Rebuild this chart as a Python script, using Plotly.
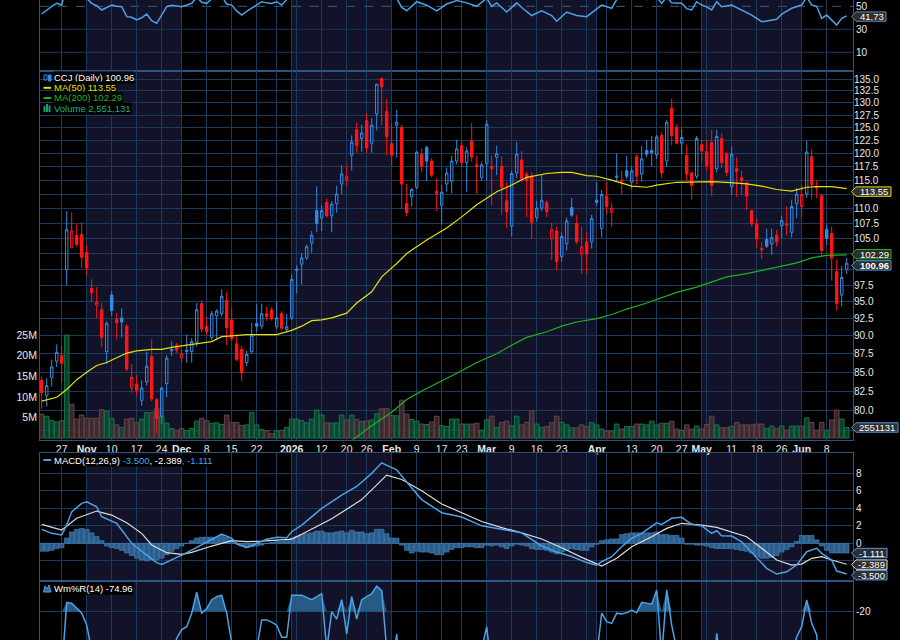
import math
import plotly.graph_objects as go
import pandas as pd

# ---------------------------------------------------------------- data
HOLIDAYS = ["2025-11-27", "2025-12-25", "2026-01-01", "2026-01-19",
            "2026-02-16", "2026-04-03", "2026-05-25"]
dates = [d.strftime("%Y-%m-%d") for d in pd.bdate_range("2025-10-21", "2026-06-12")
         if d.strftime("%Y-%m-%d") not in HOLIDAYS]
sessions = list(range(len(dates)))
pos = {d: i for i, d in enumerate(dates)}

open_ = [83.9, 81.9, 84.3, 86.5, 87.3, 99.9, 103.5, 105.5, 105.6, 102.7,
         97.0, 94.5, 93.8, 87.8, 96.0, 92.4, 92.6, 91.4, 82.9, 83.4,
         81.3, 83.7, 87.1, 81.4, 79.3, 83.5, 87.9, 88.7, 87.0, 87.8,
         87.8, 89.1, 94.7, 91.4, 89.8, 92.9, 93.2, 95.2, 92.3, 88.9,
         88.1, 86.3, 87.8, 91.8, 91.4, 93.2, 93.8, 91.3, 93.2, 90.9,
         92.6, 99.8, 100.8, 101.8, 104.2, 109.7, 108.4, 111.1, 108.8, 110.9,
         114.4, 115.2, 119.7, 124.6, 122.9, 126.4, 122.0, 127.8, 135.1, 128.3,
         121.9, 125.5, 125.1, 110.9, 112.1, 113.8, 119.9, 121.2, 118.6, 113.1,
         110.6, 114.4, 114.9, 118.6, 121.5, 118.3, 122.4, 117.9, 115.6, 118.1,
         117.6, 119.3, 117.6, 111.4, 107.0, 116.4, 118.8, 116.2, 115.8, 108.5,
         110.1, 111.1, 104.9, 106.2, 102.0, 104.1, 110.2, 107.5, 102.4, 104.4,
         104.4, 111.5, 106.6, 112.2, 109.4, 115.6, 115.1, 116.8, 114.7, 119.4,
         116.2, 120.6, 120.6, 119.8, 123.5, 118.6, 128.9, 125.1, 122.0, 119.7,
         116.4, 115.8, 121.7, 120.4, 122.1, 117.2, 122.9, 120.0, 113.9, 117.2,
         115.5, 114.6, 109.7, 107.4, 103.3, 104.8, 104.1, 105.5, 107.1, 107.4,
         106.0, 110.9, 110.4, 112.6, 119.4, 114.0, 112.3, 106.5, 105.8, 99.6,
         96.0, 100.0]
high = [84.4, 84.2, 86.7, 88.8, 88.6, 109.6, 109.4, 107.3, 107.7, 103.9,
        98.4, 97.2, 94.8, 92.1, 96.6, 93.3, 94.0, 91.7, 86.1, 84.6,
        83.9, 87.8, 89.5, 81.6, 83.1, 87.3, 89.2, 89.0, 88.1, 90.2,
        89.7, 94.8, 95.2, 92.8, 93.6, 93.9, 96.9, 96.5, 94.0, 90.0,
        88.6, 87.9, 91.9, 94.6, 94.7, 94.2, 94.2, 95.0, 93.6, 93.2,
        99.2, 100.6, 102.6, 104.0, 106.2, 114.0, 110.6, 111.8, 111.3, 114.1,
        117.9, 117.8, 123.5, 126.0, 125.6, 127.9, 126.9, 134.0, 135.3, 130.8,
        126.0, 128.6, 125.6, 114.4, 113.6, 120.5, 121.0, 121.5, 119.2, 115.4,
        114.2, 117.4, 119.6, 122.7, 122.4, 121.2, 126.0, 119.6, 118.5, 126.5,
        119.7, 121.5, 119.5, 114.7, 116.8, 122.3, 120.5, 116.6, 116.5, 111.4,
        116.0, 111.5, 107.6, 107.0, 106.0, 108.5, 111.9, 108.9, 106.9, 106.0,
        109.0, 114.7, 113.3, 114.7, 111.1, 120.0, 116.8, 119.6, 117.6, 119.9,
        121.5, 122.6, 123.4, 123.6, 124.2, 126.5, 130.9, 125.7, 124.7, 121.7,
        116.6, 123.4, 122.6, 122.6, 124.6, 124.6, 123.9, 120.3, 121.2, 119.3,
        116.8, 114.8, 109.8, 108.3, 104.4, 106.6, 106.6, 106.4, 108.8, 110.4,
        111.6, 113.7, 114.3, 122.5, 120.9, 115.0, 112.6, 107.3, 107.0, 101.5,
        100.5, 101.8]
low = [80.2, 80.5, 83.1, 85.7, 83.6, 97.5, 103.3, 103.6, 100.2, 99.0,
       95.0, 92.6, 88.4, 86.1, 92.9, 89.5, 89.8, 85.1, 82.3, 81.8,
       80.6, 83.2, 81.2, 77.2, 78.3, 81.7, 87.2, 87.6, 86.3, 86.3,
       86.3, 88.5, 90.5, 90.1, 89.4, 89.4, 92.8, 88.7, 89.3, 86.5,
       83.8, 85.8, 87.5, 90.6, 91.0, 92.2, 92.2, 91.0, 90.8, 90.6,
       92.3, 96.3, 97.6, 101.5, 102.6, 106.0, 106.2, 108.5, 106.0, 109.3,
       112.6, 114.0, 116.8, 120.2, 120.4, 120.1, 120.2, 124.5, 125.5, 119.7,
       117.7, 119.3, 110.0, 108.7, 110.4, 113.5, 116.5, 114.9, 115.6, 109.6,
       107.3, 113.0, 112.7, 118.0, 117.5, 113.0, 118.5, 112.7, 115.0, 115.0,
       110.6, 116.0, 109.0, 106.7, 105.3, 115.5, 114.8, 108.6, 104.9, 107.8,
       109.6, 108.6, 101.5, 99.8, 101.2, 103.0, 108.6, 104.0, 99.3, 99.3,
       103.3, 110.5, 105.1, 109.0, 106.9, 114.8, 112.5, 115.3, 113.5, 114.3,
       114.8, 119.3, 117.6, 119.0, 115.4, 117.5, 121.6, 121.8, 119.9, 115.0,
       111.6, 115.3, 118.3, 116.8, 112.3, 116.5, 117.3, 115.8, 112.4, 112.1,
       112.4, 109.8, 107.0, 103.5, 101.6, 103.4, 102.3, 103.6, 105.0, 105.5,
       105.1, 108.4, 108.6, 111.9, 111.6, 111.9, 101.9, 103.9, 98.2, 93.7,
       94.3, 99.2]
close = [82.3, 83.2, 85.7, 87.7, 86.2, 106.4, 106.2, 104.0, 101.9, 100.2,
         96.4, 94.9, 89.8, 91.8, 93.7, 91.9, 92.0, 85.4, 84.3, 82.6,
         82.9, 85.8, 81.5, 79.0, 82.9, 86.9, 88.1, 88.0, 87.5, 88.0,
         89.2, 93.8, 91.0, 90.6, 93.2, 93.6, 95.8, 91.2, 89.6, 86.7,
         84.9, 87.4, 90.1, 91.4, 93.2, 92.8, 92.5, 92.6, 91.1, 91.3,
         98.4, 100.0, 101.8, 103.6, 105.5, 107.5, 109.7, 108.8, 110.8, 112.6,
         116.2, 115.7, 122.2, 121.6, 124.0, 121.1, 125.5, 133.9, 133.4, 123.3,
         119.7, 126.1, 114.4, 109.3, 113.4, 120.3, 117.6, 118.6, 116.0, 112.7,
         112.9, 116.4, 118.6, 120.9, 118.3, 120.5, 119.4, 117.6, 117.9, 125.7,
         117.2, 120.0, 113.8, 109.5, 116.3, 119.9, 115.3, 115.0, 107.7, 110.1,
         111.5, 109.5, 106.4, 101.2, 105.3, 107.9, 108.9, 104.4, 103.6, 102.4,
         108.3, 111.1, 112.5, 110.4, 110.1, 115.8, 114.9, 115.8, 116.8, 115.8,
         119.0, 119.9, 120.2, 123.2, 116.4, 126.1, 123.5, 122.0, 123.1, 116.2,
         114.1, 122.9, 120.5, 117.8, 114.1, 123.3, 118.3, 116.5, 119.9, 116.7,
         115.0, 112.2, 107.4, 104.9, 103.1, 103.7, 105.1, 104.4, 108.0, 107.2,
         110.4, 112.6, 112.5, 120.3, 114.3, 113.7, 103.0, 105.0, 101.8, 94.7,
         98.7, 100.96]
# B = close above previous close (blue), R = below (red)
candle_color = ("RBBBRBRRRR" "RRRBBRBRRR" "BBRRBBBRRB" "BBRRBBBRRR"
                "RBBBBRRBRB" "BBBBBBBRBB" "BRBRBRBBRR" "RBRRBBRBRR"
                "BBBBRBRRBB" "RBRRBBRRRB" "BRRRBBBRRR" "BBBRRBRBBR"
                "BBBBRBRRBR" "RBRRRBRRBR" "RRRRRBBRBR" "BBRBRRRBRR" "BB")
volume_m = [5.8, 5.3, 4.3, 3.9, 4.2, 25.0, 8.2, 4.6, 5.6, 4.8,
            4.8, 4.8, 6.9, 6.5, 4.8, 3.2, 2.6, 4.6, 4.8, 3.7,
            4.6, 6.2, 6.2, 7.2, 5.2, 3.6, 2.3, 1.9, 2.3, 1.8,
            2.3, 4.1, 4.8, 4.2, 3.6, 3.7, 3.3, 5.6, 3.8, 3.8,
            3.1, 3.2, 6.2, 3.2, 2.1, 1.8, 1.1, 1.7, 1.9, 2.6,
            4.6, 4.6, 4.2, 3.7, 4.6, 6.8, 5.6, 3.7, 3.6, 3.7,
            5.6, 4.4, 5.6, 4.5, 4.0, 4.2, 4.4, 5.9, 7.1, 7.2,
            5.5, 5.4, 9.2, 5.8, 4.5, 4.1, 3.4, 3.3, 3.9, 5.3,
            3.0, 2.8, 4.6, 4.6, 3.4, 3.4, 3.4, 3.6, 1.9, 4.4,
            5.3, 2.6, 3.8, 4.1, 3.0, 5.3, 3.2, 3.8, 6.6, 3.4,
            2.6, 2.8, 3.8, 5.3, 3.8, 3.2, 2.5, 2.5, 3.2, 2.8,
            3.8, 3.2, 2.2, 1.7, 1.7, 3.4, 2.2, 2.8, 2.8, 3.4,
            3.4, 3.2, 4.1, 3.2, 3.6, 3.6, 4.1, 2.2, 1.9, 3.2,
            2.2, 2.9, 2.2, 3.3, 5.3, 3.2, 2.5, 2.5, 2.8, 3.8,
            3.2, 3.2, 3.2, 3.4, 3.4, 2.3, 2.9, 2.3, 2.9, 1.9,
            2.9, 2.9, 2.9, 4.9, 3.8, 1.9, 3.8, 1.9, 4.4, 6.8,
            4.6, 2.551131]

ma50_x = [0, 3, 5, 7, 9, 11, 13, 15, 17, 19, 22, 24, 26, 29, 31, 34, 36, 39, 41, 47,
          50, 52, 54, 56, 58, 61, 63, 66, 68, 71, 73, 77, 81, 84, 87, 91, 94, 97, 101, 104,
          106, 109, 111, 114, 116, 118, 121, 123, 127, 134, 137, 141, 144, 147, 150, 153, 155, 158, 161]
ma50_v = [81.2, 81.7, 82.7, 84.0, 85.0, 85.9, 86.3, 87.0, 87.6, 87.9, 88.1, 88.1, 88.4, 88.7, 88.9, 89.2, 89.9, 90.1, 90.2, 90.2,
          90.8, 91.4, 92.2, 92.3, 92.6, 93.3, 94.8, 96.5, 98.8, 100.9, 102.5, 104.7, 106.7, 108.6, 110.7, 113.0, 114.2, 115.6, 116.3, 116.5,
          116.5, 115.9, 115.8, 115.1, 114.5, 114.0, 113.8, 114.2, 114.7, 114.8, 114.7, 114.4, 114.0, 113.4, 113.1, 113.8, 113.9, 113.9, 113.55]
ma200_x = [62, 66, 70, 73, 76, 80, 84, 87, 91, 94, 97, 101, 104, 107, 111, 114, 117, 121, 124, 127,
           131, 134, 137, 141, 144, 147, 151, 154, 157, 161]
ma200_v = [76.3, 78.1, 79.8, 81.4, 82.5, 83.8, 85.2, 86.3, 87.5, 88.7, 89.8, 90.6, 91.4, 92.0, 92.5, 93.1, 93.9, 94.8, 95.6, 96.4,
           97.2, 98.0, 98.8, 99.3, 99.8, 100.4, 101.0, 101.8, 102.2, 102.29]

rsi_x = [0, 1, 2, 3, 4, 5, 6, 7, 8, 9, 10, 11, 12, 13, 14, 15, 16, 17, 18, 19,
         20, 21, 22, 23, 24, 25, 26, 27, 28, 29, 30, 31, 32, 33, 34, 35, 36, 37, 38, 39,
         40, 41, 42, 43, 44, 45, 46, 47, 48, 49, 50, 53, 56, 59, 62, 65, 67, 69, 70, 71,
         72, 73, 75, 77, 79, 81, 83, 85, 87, 89, 90, 91, 93, 95, 96, 98, 100, 102, 103, 105,
         107, 109, 111, 112, 114, 115, 117, 119, 121, 123, 124, 125, 126, 128, 129, 130, 131, 132, 133, 134,
         135, 136, 138, 140, 142, 144, 146, 147, 148, 150, 152, 153, 154, 155, 156, 157, 158, 159, 160, 161]
rsi_v = [43.3, 46.8, 50.0, 52.6, 51.1, 68.0, 67.0, 64.0, 60.0, 57.0, 52.6, 50.5, 46.8, 49.0, 51.1, 50.0, 49.7, 41.0, 40.5, 38.1,
         40.0, 43.3, 37.5, 35.2, 42.4, 49.7, 51.0, 50.2, 49.7, 51.1, 52.6, 58.0, 53.5, 52.6, 56.5, 57.0, 59.0, 52.0, 51.1, 46.0,
         42.4, 45.5, 48.3, 50.5, 54.0, 53.0, 52.5, 54.0, 51.1, 56.0, 62.0, 68.0, 73.0, 73.0, 77.0, 70.0, 79.0, 62.0, 57.0, 57.0,
         49.0, 46.0, 54.0, 51.0, 46.0, 52.0, 55.0, 53.0, 50.0, 57.0, 50.0, 53.0, 45.0, 53.0, 49.0, 42.0, 46.0, 42.0, 37.0, 45.0,
         42.0, 41.0, 48.0, 51.1, 48.3, 56.0, 57.0, 57.0, 56.0, 58.0, 52.6, 58.0, 53.0, 52.6, 48.0, 46.8, 54.0, 51.1, 49.5, 46.8,
         54.0, 49.7, 51.1, 46.8, 42.4, 36.6, 38.1, 38.7, 43.3, 48.3, 51.1, 58.0, 51.1, 50.0, 39.5, 42.4, 38.0, 33.7, 39.5, 41.73]

macd_x = [0, 2, 4, 5, 6, 8, 9, 11, 12, 15, 16, 18, 21, 23, 24, 26, 28, 30, 33, 36,
          38, 39, 41, 43, 45, 47, 49, 50, 52, 56, 60, 63, 66, 68, 71, 73, 76, 80, 84, 88,
          92, 96, 100, 103, 106, 109, 111, 112, 114, 116, 118, 120, 123, 124, 126, 128, 130, 132, 134, 135,
          136, 138, 140, 143, 145, 147, 149, 151, 153, 155, 156, 158, 159, 161]
macd_v = [1.6, 1.14, 0.95, 2.09, 3.6, 4.57, 4.75, 4.18, 3.04, 2.29, 1.52, 0.0, -1.34, -2.21, -2.4, -1.91, -1.34, -0.77, 0.19, 1.06,
          0.57, -0.08, -0.46, 0.0, 0.46, 0.69, 0.64, 1.33, 2.09, 4.0, 5.5, 6.5, 8.0, 9.2, 8.4, 7.0, 5.0, 3.5, 3.0, 2.0,
          1.6, 1.2, -0.3, -1.0, -1.5, -2.2, -2.5, -2.1, -1.53, -0.39, 0.57, 1.14, 2.35, 2.17, 2.86, 2.97, 2.17, 1.98, 1.14, 1.44,
          0.87, 0.83, 0.18, -1.71, -2.86, -3.51, -3.25, -2.48, -0.96, -0.57, -1.14, -1.91, -3.17, -3.5]
signal_x = [0, 4, 7, 11, 14, 17, 20, 22, 25, 28, 30, 34, 38, 41, 44, 48, 50, 52, 58, 64,
            69, 72, 76, 80, 84, 88, 92, 96, 100, 104, 108, 112, 115, 118, 122, 125, 128, 132, 135, 138,
            141, 144, 147, 150, 152, 154, 156, 158, 161]
signal_v = [2.17, 1.52, 2.86, 3.69, 3.23, 2.35, 1.14, -0.19, -1.07, -1.26, -1.03, -0.31, 0.3, 0.19, 0.26, 0.38, 0.49, 1.03, 2.8, 5.0,
            7.8, 7.3, 6.0, 4.5, 3.5, 2.5, 1.8, 1.2, 0.5, -0.5, -1.6, -2.6, -1.71, -0.39, 0.76, 1.71, 2.29, 2.09, 1.83, 1.33,
            0.76, -0.57, -1.91, -2.48, -2.37, -1.71, -1.53, -1.91, -2.389]
hist_v = [-0.9, -0.9, -0.8, -0.6, -0.5, 0.6, 1.3, 1.6, 1.7, 1.6,
          1.2, 0.8, 0.3, -0.3, -0.5, -0.6, -0.8, -1.1, -1.4, -1.7,
          -1.9, -2.0, -1.9, -1.9, -1.7, -1.3, -0.9, -0.6, -0.3, 0.0,
          0.3, 0.6, 0.7, 0.7, 0.7, 0.7, 0.9, 0.7, 0.4, 0.0,
          -0.3, -0.5, -0.4, -0.3, -0.2, 0.0, 0.1, 0.2, 0.2, 0.3,
          0.6, 0.8, 1.0, 1.1, 1.2, 1.4, 1.4, 1.2, 1.2, 1.3,
          1.4, 1.2, 1.5, 1.3, 1.3, 1.1, 1.2, 1.6, 1.6, 1.1,
          0.6, 0.6, -0.2, -0.8, -1.1, -0.9, -1.0, -1.0, -1.1, -1.3,
          -1.3, -1.0, -0.7, -0.5, -0.5, -0.4, -0.4, -0.5, -0.5, -0.2,
          -0.3, -0.2, -0.4, -0.6, -0.3, -0.1, -0.2, -0.3, -0.6, -0.7,
          -0.7, -0.8, -1.0, -1.2, -1.0, -0.8, -0.6, -0.7, -0.8, -0.8,
          -0.4, -0.1, 0.3, 0.4, 0.5, 0.5, 1.0, 1.1, 1.2, 1.2,
          1.2, 1.2, 1.2, 1.3, 1.0, 1.0, 0.9, 0.9, 0.6, -0.1,
          -0.1, -0.2, -0.2, -0.3, -0.5, -0.6, -0.6, -0.6, -0.6, -0.7,
          -0.8, -0.9, -1.1, -1.5, -1.7, -1.7, -1.6, -1.4, -1.0, -0.7,
          -0.4, 0.2, 0.9, 0.9, 0.9, 0.4, -0.3, -0.8, -1.1, -1.1,
          -1.1, -1.111]

wr_x = [0, 2, 3, 4, 5, 6, 8, 9, 10, 12, 16, 20, 24, 26, 27, 28, 29, 30, 31, 32,
        33, 34, 35, 36, 37, 38, 40, 42, 43, 44, 45, 46, 47, 48, 49, 50, 52, 54, 56, 57,
        58, 59, 60, 61, 62, 63, 64, 66, 67, 68, 69, 70, 71, 72, 73, 75, 77, 79, 81, 83,
        85, 87, 89, 90, 91, 92, 93, 94, 95, 96, 98, 100, 103, 105, 107, 109, 110, 111, 112, 113,
        114, 115, 116, 117, 118, 119, 120, 122, 123, 124, 125, 126, 127, 129, 131, 132, 134, 135, 136, 138,
        140, 142, 145, 148, 150, 151, 152, 153, 154, 155, 156, 157, 158, 159, 160, 161]
wr_v = [-85, -60, -50, -60, -14, -14.4, -21, -29, -50, -80, -75, -90, -85, -50, -37.7, -32, -30, -21, -7, -21,
        -18, -12, -10, -9, -21, -50, -80, -70, -45, -25.5, -25.5, -27, -29, -37, -37, -9, -9, -12, -8, -45,
        -20, -25, -12, -35, -10, -25, -12, -8, -3, -6, -45, -60, -35, -85, -95, -55, -60, -85, -65, -45,
        -45, -60, -30, -60, -50, -75, -90, -55, -40, -60, -90, -75, -95, -70, -85, -92, -65, -50, -21, -26.7,
        -27.8, -21, -21.5, -20.7, -18.9, -20.7, -13.8, -15, -5.5, -50, -5.5, -29, -45, -75, -42, -55, -80, -34.4, -60, -55,
        -70, -95, -85, -65, -50, -36.7, -30, -12.2, -27.8, -35.6, -80, -65, -85, -95, -80, -74.96]

grid_dates = ["2025-10-27", "2025-11-03", "2025-11-10", "2025-11-17", "2025-11-24", "2025-12-01",
              "2025-12-08", "2025-12-15", "2025-12-22", "2025-12-29", "2026-01-02", "2026-01-05",
              "2026-01-12", "2026-01-20", "2026-01-26", "2026-02-02", "2026-02-09", "2026-02-17",
              "2026-02-23", "2026-03-02", "2026-03-09", "2026-03-16", "2026-03-23", "2026-03-30",
              "2026-04-01", "2026-04-06", "2026-04-13", "2026-04-20", "2026-04-27", "2026-05-01",
              "2026-05-04", "2026-05-11", "2026-05-18", "2026-05-26", "2026-06-01", "2026-06-08"]
grid_labels = ["27", "<b>Nov</b>", "10", "17", "24", "<b>Dec</b>", "8", "15", "22", "", "<b>2026</b>", "",
               "12", "20", "26", "<b>Feb</b>", "9", "17", "23", "<b>Mar</b>", "9", "16", "23", "",
               "<b>Apr</b>", "", "13", "20", "27", "<b>May</b>", "", "11", "18", "26", "<b>Jun</b>", "8"]
month_spans = [("2025-11-03", "2025-12-01"), ("2026-01-02", "2026-02-02"),
               ("2026-03-02", "2026-04-01"), ("2026-05-01", "2026-06-01")]
price_ticks = [77.5, 80.0, 82.5, 85.0, 87.5, 90.0, 92.5, 95.0, 97.5, 100.0, 102.5, 105.0, 107.5,
               110.0, 112.5, 115.0, 117.5, 120.0, 122.5, 125.0, 127.5, 130.0, 132.5, 135.0]
# labels hidden behind the value boxes on the right edge
price_hidden = [77.5, 100.0, 102.5, 112.5]
volume_ticks = [5, 10, 15, 20, 25]
macd_ticks = [-2, 0, 2, 4, 6, 8]
rsi_ticks = [10, 30, 50]

# ---------------------------------------------------------------- style
W, H, ML, MR = 900, 640, 40, 47
PW = W - ML - MR
FONT = "Liberation Sans, Arial, sans-serif"
BLUE = "#3389e4"
RED = "#ff1616"
IND = "#4aa3e6"
SIGNAL = "#dcdcdc"
MA50C = "#e2e200"
MA200C = "#1fb21f"
GRID = "#1c3a5c"
BORDER = "#2a5582"
SHADE = "#121229"
TXT = "#e8e8e8"


def ydom(top, bot):
    return [1 - bot / H, 1 - top / H]


def px(xp):
    return (xp - ML) / PW


def py(yp):
    return 1 - yp / H


grid_idx = [pos[d] for d in grid_dates]
XR = [-0.34, 162.26]

fig = go.Figure()

# volume (base axis of main panel)
vol_fill = ["rgba(12,85,55,0.75)" if c == "B" else "rgba(72,48,50,0.8)" for c in candle_color]
vol_line = ["#17734c" if c == "B" else "#62444a" for c in candle_color]
fig.add_trace(go.Bar(x=sessions, y=volume_m, xaxis="x2", yaxis="y2",
                     marker=dict(color=vol_fill, line=dict(color=vol_line, width=1)),
                     hoverinfo="skip"))

# candles: blue set and red set; hollow = close>open, filled = close<open
for code, col in (("B", BLUE), ("R", RED)):
    sel = [c == code for c in candle_color]
    fig.add_trace(go.Candlestick(
        x=sessions,
        open=[v if s else None for v, s in zip(open_, sel)],
        high=[v if s else None for v, s in zip(high, sel)],
        low=[v if s else None for v, s in zip(low, sel)],
        close=[v if s else None for v, s in zip(close, sel)],
        xaxis="x2", yaxis="y5", whiskerwidth=0,
        increasing=dict(line=dict(color=col, width=1), fillcolor="rgba(0,0,0,0)"),
        decreasing=dict(line=dict(color=col, width=1), fillcolor=col),
        hoverinfo="skip"))

fig.add_trace(go.Scatter(x=ma50_x, y=ma50_v, xaxis="x2", yaxis="y5", mode="lines",
                         line=dict(color=MA50C, width=1.2), hoverinfo="skip"))
fig.add_trace(go.Scatter(x=ma200_x, y=ma200_v, xaxis="x2", yaxis="y5", mode="lines",
                         line=dict(color=MA200C, width=1.2), hoverinfo="skip"))

# RSI
fig.add_trace(go.Scatter(x=rsi_x, y=rsi_v, xaxis="x", yaxis="y", mode="lines",
                         line=dict(color=IND, width=1.5), hoverinfo="skip"))

# MACD
fig.add_trace(go.Bar(x=sessions, y=hist_v, xaxis="x3", yaxis="y3",
                     marker=dict(color="#2c5d8a", line=dict(color="#4a8cc8", width=0.6)),
                     hoverinfo="skip"))
fig.add_trace(go.Scatter(x=signal_x, y=signal_v, xaxis="x3", yaxis="y3", mode="lines",
                         line=dict(color=SIGNAL, width=1.2), hoverinfo="skip"))
fig.add_trace(go.Scatter(x=macd_x, y=macd_v, xaxis="x3", yaxis="y3", mode="lines",
                         line=dict(color=IND, width=1.5), hoverinfo="skip"))

# Williams %R with shading above -20
fig.add_trace(go.Scatter(x=wr_x, y=[-20] * len(wr_x), xaxis="x4", yaxis="y4", mode="lines",
                         line=dict(width=0, color="rgba(0,0,0,0)"), hoverinfo="skip"))
fig.add_trace(go.Scatter(x=wr_x, y=[max(v, -20) for v in wr_v], xaxis="x4", yaxis="y4",
                         mode="lines", fill="tonexty", fillcolor="#285a86",
                         line=dict(width=0, color="rgba(0,0,0,0)"), hoverinfo="skip"))
fig.add_trace(go.Scatter(x=wr_x, y=wr_v, xaxis="x4", yaxis="y4", mode="lines",
                         line=dict(color=IND, width=1.5), hoverinfo="skip"))

# ---------------------------------------------------------------- axes
xcommon = dict(range=XR, tickvals=grid_idx, showgrid=True, gridcolor=GRID, gridwidth=1,
               zeroline=False, showline=True, mirror=True, linecolor=BORDER, ticks="",
               showticklabels=False, fixedrange=True)
ycommon = dict(side="right", showline=True, mirror=True, linecolor=BORDER, ticks="",
               zeroline=False, gridcolor=GRID, gridwidth=1,
               tickfont=dict(family=FONT, size=10, color=TXT), fixedrange=True)

lay = dict(
    width=W, height=H, margin=dict(l=ML, r=MR, t=0, b=0),
    paper_bgcolor="black", plot_bgcolor="black", showlegend=False,
    hovermode=False, bargap=0.08, boxgap=0.3,
    xaxis=dict(xcommon, anchor="y"),
    xaxis2=dict(xcommon, anchor="y2", showticklabels=True, ticktext=grid_labels,
                tickfont=dict(family=FONT, size=10.5, color=TXT),
                rangeslider=dict(visible=False)),
    xaxis3=dict(xcommon, anchor="y3"),
    xaxis4=dict(xcommon, anchor="y4"),
    yaxis=dict(ycommon, anchor="x", domain=ydom(0, 71), range=[-6.3, 55.5],
               tickvals=rsi_ticks, ticktext=[str(t) for t in rsi_ticks], showgrid=False),
    yaxis2=dict(anchor="x2", domain=ydom(71, 439.5), range=[-0.35, 89.1], side="left",
                tickvals=volume_ticks, ticktext=[f"{t}M" for t in volume_ticks],
                showgrid=False, zeroline=False, showline=True, mirror=True, linecolor=BORDER,
                ticks="", tickfont=dict(family=FONT, size=10.5, color=TXT), fixedrange=True),
    yaxis5=dict(ycommon, anchor="x2", overlaying="y2", type="log",
                range=[math.log10(76.43), math.log10(136.72)],
                tickvals=price_ticks,
                ticktext=["" if t in price_hidden else f"{t:.1f}" for t in price_ticks],
                showgrid=True, showline=False),
    yaxis3=dict(ycommon, anchor="x3", domain=ydom(453.3, 580), range=[-4.19, 10.29],
                tickvals=macd_ticks, ticktext=["" if t < 0 else str(t) for t in macd_ticks],
                showgrid=True),
    yaxis4=dict(ycommon, anchor="x4", domain=ydom(581.7, 640), range=[-38.9, 0],
                tickvals=[-20], ticktext=["-20"], showgrid=True),
)
fig.update_layout(**lay)

shapes = []
# month shading in every panel
for xr, yr in (("x", "y"), ("x2", "y2"), ("x3", "y3"), ("x4", "y4")):
    for a, b in month_spans:
        shapes.append(dict(type="rect", xref=xr, yref=yr + " domain", x0=pos[a], x1=pos[b],
                           y0=0, y1=1, fillcolor=SHADE, line=dict(width=0), layer="below"))
# RSI reference lines
for lvl, dash in ((10, "solid"), (30, "solid"), (50, "dash")):
    shapes.append(dict(type="line", xref="x domain", yref="y", x0=0, x1=1, y0=lvl, y1=lvl,
                       line=dict(color=GRID if dash == "solid" else "#3b5f86", width=1, dash=dash),
                       layer="below"))

annotations = []
HB = 4.7  # half box height in px


def value_box(text, cy, w, border, bold=False):
    x0, x1 = 856, 856 + w
    shapes.append(dict(type="path", xref="paper", yref="paper",
                       path=f"M {px(851.5)},{py(cy)} L {px(x0)},{py(cy - HB)} L {px(x1)},{py(cy - HB)} "
                            f"L {px(x1)},{py(cy + HB)} L {px(x0)},{py(cy + HB)} Z",
                       fillcolor="#2e2e2e", line=dict(color=border, width=1), layer="above"))
    annotations.append(dict(xref="paper", yref="paper", x=px((x0 + x1) / 2 + 0.5), y=py(cy),
                            xanchor="center", yanchor="middle", showarrow=False,
                            text=f"<b>{text}</b>" if bold else text,
                            font=dict(family=FONT, size=9.5, color="white")))


value_box(f"{rsi_v[-1]:.2f}", 16.6, 30, "#5a86b0")
value_box(f"{ma50_v[-1]:.2f}", 191.6, 35, MA50C)
value_box(f"{ma200_v[-1]:.2f}", 254.2, 35, MA200C)
value_box(f"{close[-1]:.2f}", 265.4, 35, "#4a9be8", bold=True)
value_box(f"{round(volume_m[-1] * 1e6)}", 427.5, 42, "#4a9be8")
value_box(f"{hist_v[-1]:.3f}", 553.0, 31, "#4a9be8")
value_box(f"{signal_v[-1]:.3f}", 564.6, 31, "#e0e0e0")
value_box(f"{macd_v[-1]:.3f}", 575.2, 31, "#4a9be8")


def legend_text(text, cy, color="white"):
    annotations.append(dict(xref="paper", yref="paper", x=px(53), y=py(cy), xanchor="left",
                            yanchor="middle", showarrow=False, text=text, bgcolor="black",
                            borderpad=0, font=dict(family=FONT, size=9.5, color=color)))


legend_text(f"CCJ (Daily) {close[-1]:.2f}", 77.3)
legend_text(f"MA(50) {ma50_v[-1]:.2f}", 87.8, MA50C)
legend_text(f"MA(200) {ma200_v[-1]:.2f}", 98.0, MA200C)
legend_text(f"Volume {round(volume_m[-1] * 1e6):,}", 108.2, "#22b07a")
legend_text(f"MACD(12,26,9) <span style='color:{IND}'>{macd_v[-1]:.3f}</span>, "
            f"{signal_v[-1]:.3f}<span style='color:{IND}'>, {hist_v[-1]:.3f}</span>", 460.0)
legend_text(f"Wm%R(14) {wr_v[-1]:.2f}", 588.0)

# legend icons
shapes.append(dict(type="rect", xref="paper", yref="paper", x0=px(44), x1=px(47), y0=py(80), y1=py(75),
                   line=dict(color=BLUE, width=1), fillcolor="rgba(0,0,0,0)"))
shapes.append(dict(type="rect", xref="paper", yref="paper", x0=px(48.5), x1=px(51), y0=py(81), y1=py(75),
                   line=dict(color=BLUE, width=1), fillcolor=BLUE))
for cy, col in ((87.8, MA50C), (98.0, MA200C), (460.0, IND)):
    shapes.append(dict(type="line", xref="paper", yref="paper", x0=px(43.5), x1=px(51), y0=py(cy), y1=py(cy),
                       line=dict(color=col, width=2)))
for x0, top in ((43.5, 106), (46, 104), (48.5, 105.5)):
    shapes.append(dict(type="rect", xref="paper", yref="paper", x0=px(x0), x1=px(x0 + 2), y0=py(112), y1=py(top),
                       line=dict(width=0), fillcolor="#1f9a6a"))
shapes.append(dict(type="path", xref="paper", yref="paper",
                   path=f"M {px(43.5)},{py(592)} L {px(45)},{py(586)} L {px(47)},{py(589)} "
                        f"L {px(49)},{py(585)} L {px(51)},{py(592)} Z",
                   fillcolor="#2d6fa6", line=dict(color=IND, width=1)))

fig.update_layout(shapes=shapes, annotations=annotations)
fig.write_html("out.html", config={"displayModeBar": False})
